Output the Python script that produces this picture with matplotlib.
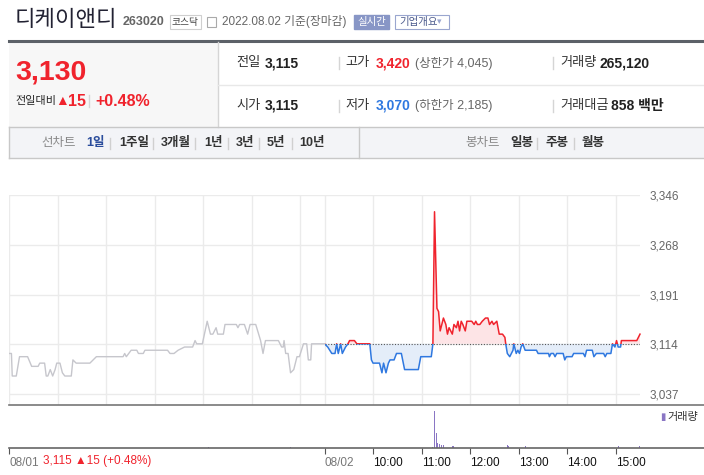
import matplotlib
matplotlib.use("Agg")
import matplotlib.pyplot as plt
from matplotlib.patches import Rectangle
from matplotlib.lines import Line2D

plt.rcParams['font.family'] = ['Liberation Sans', 'Noto Sans CJK KR', 'DejaVu Sans']

W, H = 704, 475

# 08/01 (전일) 가격
day1_time = ['09:00', '09:03', '09:04', '09:09', '09:13', '09:23', '09:28', '09:36', '09:38', '09:44',
             '09:46', '09:48', '09:51', '09:54', '09:57', '09:59', '10:03', '10:06', '10:09', '10:17',
             '10:19', '10:23', '10:40', '10:48', '11:21', '11:23', '11:25', '11:31', '11:38', '11:40',
             '11:46', '11:48', '12:16', '12:19', '12:24', '12:29', '12:37', '12:47', '12:50', '12:52',
             '12:59', '13:05', '13:09', '13:12', '13:16', '13:18', '13:25', '13:27', '13:41', '13:43',
             '13:45', '13:51', '13:55', '13:58', '14:05', '14:11', '14:14', '14:17', '14:33', '14:37',
             '14:39', '14:40', '14:42', '14:45', '14:48', '14:52', '14:56', '14:59', '15:04', '15:08',
             '15:10', '15:13', '15:14', '15:30']
day1_price = [3100, 3100, 3065, 3065, 3095, 3095, 3080, 3080, 3085, 3085,
              3065, 3065, 3075, 3065, 3075, 3085, 3085, 3070, 3065, 3065,
              3090, 3085, 3085, 3095, 3095, 3100, 3095, 3105, 3105, 3100,
              3100, 3105, 3105, 3100, 3100, 3105, 3110, 3110, 3120, 3115,
              3115, 3150, 3130, 3130, 3140, 3130, 3130, 3145, 3145, 3140,
              3145, 3145, 3130, 3145, 3145, 3120, 3100, 3120, 3120, 3110,
              3110, 3120, 3100, 3100, 3070, 3075, 3095, 3095, 3115, 3115,
              3090, 3090, 3115, 3115]

# 08/02 (당일) 가격
day2_time = ['09:00', '09:04', '09:09', '09:13', '09:15', '09:17', '09:20', '09:22', '09:26', '09:29',
             '09:31', '09:37', '09:40', '09:56', '09:58', '10:00', '10:08', '10:11', '10:13', '10:16',
             '10:19', '10:21', '10:26', '10:29', '10:35', '10:39', '10:56', '10:59', '11:12', '11:14',
             '11:16', '11:19', '11:21', '11:23', '11:27', '11:30', '11:32', '11:34', '11:36', '11:38',
             '11:40', '11:43', '11:45', '11:47', '11:49', '11:51', '11:54', '11:56', '12:02', '12:05',
             '12:07', '12:09', '12:12', '12:15', '12:19', '12:22', '12:24', '12:27', '12:29', '12:33',
             '12:36', '12:40', '12:43', '12:44', '12:46', '12:49', '12:53', '12:54', '12:57', '12:59',
             '13:01', '13:03', '13:05', '13:08', '13:22', '13:24', '13:37', '13:38', '13:40', '13:43',
             '13:45', '13:47', '13:55', '13:57', '13:59', '14:06', '14:08', '14:20', '14:22', '14:24',
             '14:31', '14:33', '14:36', '14:45', '14:47', '14:49', '14:54', '14:56', '14:59', '15:01',
             '15:03', '15:06', '15:07', '15:26', '15:30']
day2_price = [3115, 3110, 3100, 3100, 3115, 3100, 3115, 3100, 3110, 3115,
              3120, 3120, 3115, 3115, 3090, 3085, 3085, 3070, 3085, 3070,
              3085, 3090, 3090, 3100, 3100, 3075, 3075, 3095, 3095, 3115,
              3320, 3170, 3165, 3135, 3155, 3145, 3130, 3140, 3135, 3130,
              3145, 3140, 3150, 3135, 3150, 3145, 3135, 3150, 3150, 3145,
              3150, 3145, 3145, 3150, 3155, 3155, 3145, 3150, 3145, 3150,
              3130, 3130, 3125, 3115, 3100, 3095, 3105, 3115, 3100, 3105,
              3100, 3110, 3115, 3105, 3105, 3100, 3100, 3095, 3100, 3100,
              3095, 3100, 3100, 3090, 3095, 3095, 3100, 3100, 3095, 3105,
              3105, 3095, 3100, 3100, 3095, 3100, 3100, 3115, 3110, 3120,
              3110, 3110, 3120, 3120, 3130]

vol1_time = ['13:07', '14:48']
vol1 = [3000, 3000]
vol2_time = ['11:14', '11:16', '11:18', '11:20', '11:22', '11:25', '11:27', '11:38', '11:40',
             '12:46', '12:48', '12:53', '13:09', '15:03', '15:29']
vol2 = [3000, 110000, 44000, 15000, 11000, 7000, 9000, 5000, 5000,
        9000, 5000, 9000, 5000, 6000, 6000]

prev_close = 3115
y_ticks = [3037, 3114, 3191, 3268, 3346]
hour_labels = ['10:00', '11:00', '12:00', '13:00', '14:00', '15:00']

RED = '#f0232d'
BLUE = '#2f78e0'


def to_min(t, day):
    h, m = t.split(':')
    return day * 390 + (int(h) - 9) * 60 + int(m)


def fx(x):
    return x / W


def fy(y):
    return 1 - y / H


fig = plt.figure(figsize=(W / 100, H / 100), dpi=100)


def txt(x, y, s, size=9, color='#333', weight='normal', ha='left'):
    fig.text(fx(x), fy(y), s, fontsize=size, color=color, fontweight=weight,
             ha=ha, va='center')


def hline(x0, x1, y, color, lw=1):
    fig.add_artist(Line2D([fx(x0), fx(x1)], [fy(y), fy(y)], color=color, lw=lw))


def vline(x, y0, y1, color, lw=1):
    fig.add_artist(Line2D([fx(x), fx(x)], [fy(y0), fy(y1)], color=color, lw=lw))


def box(x0, y0, x1, y1, fc='none', ec='none', lw=1):
    fig.add_artist(Rectangle((fx(x0), fy(y1)), fx(x1) - fx(x0), fy(y0) - fy(y1),
                             facecolor=fc, edgecolor=ec, lw=lw))


# ---- header ----
txt(15, 21, '디케이앤디', size=16, color='#222233')
txt(123, 22, '263020', size=9, color='#666', weight='bold')
box(170, 15, 201, 29, fc='white', ec='#cfcfcf', lw=0.8)
txt(185.5, 22, '코스닥', size=7, color='#444', ha='center')
box(207, 17, 216, 27, fc='white', ec='#aaa', lw=0.8)
txt(222, 22, '2022.08.02 기준(장마감)', size=8.5, color='#666')
box(354, 15, 389, 29, fc='#8896c6', ec='#8896c6')
txt(371.5, 22, '실시간', size=7.5, color='white', ha='center')
box(395, 15, 449, 29, fc='white', ec='#9aa6cf', lw=0.8)
txt(399, 22, '기업개요', size=7.5, color='#4b5a8c')
txt(437, 22, '▾', size=6.5, color='#9aa6cf')

hline(9, 704, 40.5, '#5c6168', lw=2.2)

# price summary box
box(9, 42, 218, 127, fc='#f7f7f7', ec='none')
vline(218, 42, 127, '#d5d5d5')
hline(218, 704, 85, '#e8e8e8')
txt(15, 73, '3,130', size=20.5, color=RED, weight='bold')
txt(15, 101, '전일대비', size=8, color='#222')
txt(55, 101, '▲', size=10, color=RED)
txt(68, 101, '15', size=11.5, color=RED, weight='bold')
vline(89, 95, 107, '#d5d5d5')
txt(95, 101, '+0.48%', size=11.5, color=RED, weight='bold')

for y, a, av, b, bv, bcol, lim, c, cv in [
        (63, '전일', '3,115', '고가', '3,420', RED, '(상한가 4,045)', '거래량', '265,120'),
        (106, '시가', '3,115', '저가', '3,070', BLUE, '(하한가 2,185)', '거래대금', '858 백만')]:
    txt(236, y, a, size=9.5, color='#333')
    txt(265, y, av, size=10, color='#222', weight='bold')
    vline(339, y - 6, y + 6, '#d5d5d5')
    txt(345, y, b, size=9.5, color='#333')
    txt(376, y, bv, size=10, color=bcol, weight='bold')
    txt(415, y, lim, size=9, color='#666')
    vline(553, y - 6, y + 6, '#d5d5d5')
    txt(560, y, c, size=9.5, color='#333')
    txt(600 if c == '거래량' else 611, y, cv, size=10, color='#222', weight='bold')

# chart type nav bar
box(9, 127, 704, 158, fc='#f3f4f7', ec='none')
hline(9, 704, 127, '#c8c8c8')
hline(9, 704, 158, '#c8c8c8')
vline(9, 127, 158, '#c8c8c8')
vline(359, 127, 158, '#c8c8c8')
txt(41, 143, '선차트', size=9, color='#888')
txt(86, 143, '1일', size=9, color='#2b4d9c', weight='bold')
for xs, lab in [(119, '1주일'), (161, '3개월'), (204, '1년'), (236, '3년'), (267, '5년'), (299, '10년')]:
    txt(xs, 143, lab, size=9, color='#333', weight='bold')
for xs in [110, 153, 195, 228, 259, 292]:
    vline(xs, 138, 149, '#d0d0d0')
txt(465, 143, '봉차트', size=9, color='#888')
txt(510, 143, '일봉', size=9, color='#333', weight='bold')
txt(545, 143, '주봉', size=9, color='#333', weight='bold')
txt(582, 143, '월봉', size=9, color='#333', weight='bold')
vline(537, 138, 149, '#d0d0d0')
vline(574, 138, 149, '#d0d0d0')

# ---- price chart ----
ax = fig.add_axes([fx(9), fy(405), fx(640) - fx(9), fy(195) - fy(405)])
ax.set_xlim(0, 780)
ax.set_ylim(3020, 3346)
for s in ax.spines.values():
    s.set_visible(False)
ax.set_xticks([0, 60, 120, 180, 240, 300, 360, 390, 450, 510, 570, 630, 690, 750])
ax.set_xticklabels([])
ax.set_yticks(y_ticks)
ax.set_yticklabels([f'{v:,}' for v in y_ticks])
ax.yaxis.tick_right()
ax.tick_params(length=0, labelsize=8.5, labelcolor='#666', pad=7)
ax.grid(color='#ebebeb', lw=1)
ax.set_axisbelow(True)

t1 = [to_min(t, 0) for t in day1_time]
t2 = [to_min(t, 1) for t in day2_time]
ax.plot(t1, day1_price, color='#c6c6cc', lw=1)

ax.fill_between(t2, day2_price, prev_close, where=[p >= prev_close for p in day2_price],
                interpolate=True, color='#fde4e6', lw=0)
ax.fill_between(t2, day2_price, prev_close, where=[p <= prev_close for p in day2_price],
                interpolate=True, color='#e4edf9', lw=0)
ax.hlines(prev_close, 390, 780, colors='#555', linestyles=(0, (1, 1.5)), lw=0.8)
up, = ax.plot(t2, day2_price, color=RED, lw=1.1)
up.set_clip_path(Rectangle((390, prev_close), 400, 1000, transform=ax.transData))
dn, = ax.plot(t2, day2_price, color=BLUE, lw=1.1)
dn.set_clip_path(Rectangle((390, 2000), 400, prev_close - 2000, transform=ax.transData))

hline(9, 704, 405, '#777', lw=1.2)

# ---- volume ----
axv = fig.add_axes([fx(9), fy(447.7), fx(640) - fx(9), fy(405.5) - fy(447.7)])
axv.set_xlim(0, 780)
axv.set_ylim(0, 128000)
for s in axv.spines.values():
    s.set_visible(False)
axv.bar([to_min(t, 0) for t in vol1_time], vol1, width=1.2, color='#8a76c4', lw=0)
axv.bar([to_min(t, 1) for t in vol2_time], vol2, width=1.2, color='#8a76c4', lw=0)
axv.set_yticks([])
tick_pos = [0, 390] + [to_min(h, 1) for h in hour_labels]
axv.set_xticks(tick_pos)
axv.set_xticklabels(['08/01', '08/02'] + hour_labels, ha='left')
axv.tick_params(axis='x', length=4, color='#555', labelsize=8.5, pad=3)
for i, lab in enumerate(axv.get_xticklabels()):
    lab.set_color('#777' if i < 2 else '#111')
hline(9, 704, 447.7, '#666', lw=1.2)
txt(43, 461, '3,115 ▲15 (+0.48%)', size=8.5, color=RED)
txt(660, 417, '▮', size=7, color='#8a76c4')
txt(667, 417, '거래량', size=8, color='#333')

fig.savefig('out.png', dpi=100)
